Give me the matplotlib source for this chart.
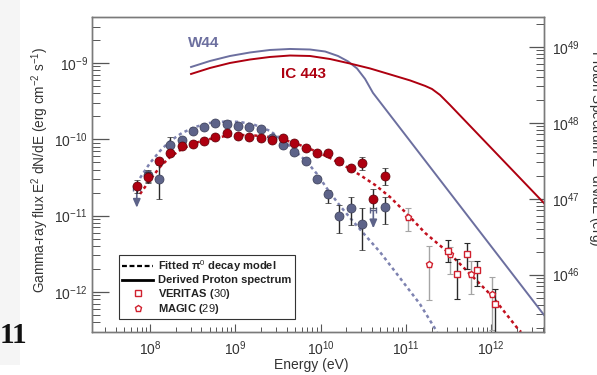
import numpy as np
import matplotlib
matplotlib.use("Agg")
import matplotlib.pyplot as plt
from matplotlib.lines import Line2D
from matplotlib.patches import Rectangle
from matplotlib.ticker import LogLocator, NullFormatter

plt.rcParams['font.family'] = ['Liberation Sans', 'DejaVu Sans']
plt.rcParams['mathtext.fontset'] = 'custom'
plt.rcParams['mathtext.rm'] = 'Liberation Sans'
plt.rcParams['mathtext.it'] = 'Liberation Sans:italic:bold'
plt.rcParams['mathtext.bf'] = 'Liberation Sans:bold'

# ---------------- data ----------------
# Fermi-LAT energy bins (eV)
fermi_E = [7.0e7, 9.55e7, 1.29e8, 1.72e8, 2.35e8, 3.17e8, 4.30e8, 5.83e8, 7.93e8,
           1.07e9, 1.45e9, 1.99e9, 2.67e9, 3.60e9, 4.92e9, 6.69e9, 9.0e9, 1.23e10,
           1.66e10, 2.27e10, 3.08e10, 4.15e10, 5.69e10]
nan = np.nan
# W44 (erg cm^-2 s^-1); nan where only an upper limit exists
w44_flux = [nan, 3.40e-11, 3.02e-11, 8.41e-11, 9.8e-11, 1.29e-10, 1.46e-10, 1.62e-10, 1.57e-10,
            1.51e-10, 1.47e-10, 1.36e-10, 1.03e-10, 8.41e-11, 6.76e-11, 5.25e-11, 3.02e-11, 1.92e-11,
            9.9e-12, 1.25e-11, 7.69e-12, nan, 1.31e-11]
w44_hi = [nan, 4.0e-11, 4.6e-11, 1.06e-10, 1.07e-10, 1.36e-10, 1.53e-10, 1.70e-10, 1.65e-10,
          1.58e-10, 1.54e-10, 1.42e-10, 1.08e-10, 8.9e-11, 7.2e-11, 5.6e-11, 3.3e-11, 2.17e-11,
          1.38e-11, 1.74e-11, 1.26e-11, nan, 1.77e-11]
w44_lo = [nan, 2.78e-11, 1.64e-11, 7.24e-11, 8.9e-11, 1.22e-10, 1.39e-10, 1.54e-10, 1.49e-10,
          1.44e-10, 1.40e-10, 1.30e-10, 9.8e-11, 7.9e-11, 6.3e-11, 4.9e-11, 2.75e-11, 1.45e-11,
          5.86e-12, 7.53e-12, 3.54e-12, nan, 7.76e-12]
# W44 upper limits
w44_ul_E = [7.0e7, 4.15e10]
w44_ul_Elo = [6.4e7, 3.8e10]
w44_ul_Ehi = [7.6e7, 4.5e10]
w44_ul_F = [2.30e-11, 1.18e-11]
w44_ul_tip = [1.27e-11, 6.82e-12]

# IC 443
ic_flux = [2.47e-11, 3.24e-11, 5.20e-11, 6.56e-11, 8.17e-11, 8.59e-11, 9.59e-11, 1.08e-10, 1.20e-10,
           1.10e-10, 1.08e-10, 1.05e-10, 9.79e-11, 1.03e-10, 9.02e-11, 7.62e-11, 6.67e-11, 6.56e-11,
           5.20e-11, 4.17e-11, 4.84e-11, 1.65e-11, 3.30e-11]
ic_hi = [2.93e-11, 3.76e-11, 5.6e-11, 7.0e-11, 8.6e-11, 9.0e-11, 1.0e-10, 1.13e-10, 1.25e-10,
         1.15e-10, 1.13e-10, 1.10e-10, 1.02e-10, 1.08e-10, 9.4e-11, 8.0e-11, 7.0e-11, 6.9e-11,
         5.5e-11, 4.5e-11, 5.81e-11, 2.23e-11, 4.21e-11]
ic_lo = [1.98e-11, 2.70e-11, 4.8e-11, 6.1e-11, 7.7e-11, 8.2e-11, 9.2e-11, 1.03e-10, 1.15e-10,
         1.05e-10, 1.03e-10, 1.0e-10, 9.4e-11, 9.8e-11, 8.6e-11, 7.2e-11, 6.3e-11, 6.2e-11,
         4.9e-11, 3.85e-11, 3.96e-11, 1.26e-11, 2.52e-11]

# MAGIC (29)
magic_E = [1.07e11, 1.88e11, 3.29e11, 5.75e11, 1.03e12]
magic_F = [9.68e-12, 2.32e-12, 3.14e-12, 1.70e-12, 9.31e-13]
magic_hi = [1.25e-11, 4.0e-12, 3.91e-12, 2.54e-12, 1.58e-12]
magic_lo = [6.28e-12, 7.83e-13, 1.72e-12, 9.38e-13, 3.16e-13]

# VERITAS (30)
ver_E = [3.14e11, 3.94e11, 5.16e11, 6.87e11, 1.12e12]
ver_F = [3.47e-12, 1.72e-12, 3.17e-12, 1.92e-12, 7.0e-13]
ver_hi = [4.79e-12, 2.70e-12, 4.38e-12, 2.54e-12, 1.09e-12]
ver_lo = [2.49e-12, 8.07e-13, 2.0e-12, 1.19e-12, 3.0e-13]

# Fitted pi0 decay models
w44_fit_E = [7.64e7, 1.0e8, 1.31e8, 1.72e8, 2.37e8, 3.37e8, 5.05e8, 7.57e8, 1.135e9, 1.70e9,
             2.55e9, 3.83e9, 5.01e9, 6.75e9, 9.08e9, 1.22e10, 1.69e10, 2.33e10, 3.31e10, 4.97e10,
             8.53e10, 1.46e11, 2.32e11]
w44_fit_F = [3.11e-11, 4.89e-11, 7.03e-11, 9.50e-11, 1.21e-10, 1.45e-10, 1.64e-10, 1.71e-10,
             1.69e-10, 1.54e-10, 1.29e-10, 9.22e-11, 7.03e-11, 5.20e-11, 3.51e-11, 2.17e-11,
             1.34e-11, 8.75e-12, 5.57e-12, 3.33e-12, 1.52e-12, 6.93e-13, 2.98e-13]
ic_fit_E = [7.64e7, 1.0e8, 1.31e8, 1.72e8, 2.37e8, 3.37e8, 5.05e8, 7.57e8, 1.135e9, 1.70e9,
            2.55e9, 3.83e9, 5.73e9, 8.59e9, 1.29e10, 1.93e10, 2.90e10, 4.35e10, 6.52e10, 1.06e11,
            1.68e11, 3.29e11, 5.64e11, 1.02e12, 2.06e12, 2.24e12]
ic_fit_F = [1.92e-11, 2.93e-11, 4.34e-11, 5.86e-11, 7.46e-11, 8.95e-11, 1.01e-10, 1.10e-10,
            1.14e-10, 1.12e-10, 1.07e-10, 9.79e-11, 8.41e-11, 7.03e-11, 5.69e-11, 4.47e-11,
            3.40e-11, 2.52e-11, 1.75e-11, 1.02e-11, 5.92e-12, 3.14e-12, 1.72e-12, 8.83e-13,
            3.27e-13, 2.98e-13]

# Derived proton spectra (erg), right axis
w44_p_E = [3.03e8, 5.05e8, 8.66e8, 1.49e9, 2.55e9, 4.38e9, 7.51e9, 1.13e10, 1.60e10, 2.10e10,
           2.67e10, 3.32e10, 4.11e10, 4.16e12]
w44_p_N = [5.41e48, 6.49e48, 7.55e48, 8.40e48, 9.06e48, 9.34e48, 9.19e48, 8.65e48, 7.55e48,
           6.40e48, 5.18e48, 3.77e48, 2.47e48, 2.95e45]
ic_p_E = [3.03e8, 5.05e8, 8.66e8, 1.49e9, 2.55e9, 4.38e9, 7.51e9, 1.29e10, 2.21e10, 3.79e10,
          6.52e10, 1.12e11, 1.68e11, 2.02e11, 2.51e11, 3.29e11, 4.16e12]
ic_p_N = [4.38e48, 5.25e48, 6.11e48, 6.79e48, 7.33e48, 7.66e48, 7.55e48, 6.89e48, 6.01e48,
          5.18e48, 4.32e48, 3.60e48, 3.05e48, 2.78e48, 2.32e48, 1.71e48, 8.75e46]

x_ticks = [1e8, 1e9, 1e10, 1e11, 1e12]
y_ticks = [1e-12, 1e-11, 1e-10, 1e-9]
y2_ticks = [1e46, 1e47, 1e48, 1e49]

# ---------------- styles ----------------
C_W44 = '#5d6389'
C_W44_LINE = '#6c6f9f'
C_W44_FIT = '#7d82b0'
C_IC = '#ae0010'
C_IC_FIT = '#c2101e'
C_OPEN = '#d0202e'
SPINE = '#7a7a7a'
TXT = '#333333'

fig = plt.figure(figsize=(5.97, 3.75), dpi=100)
fig.patches.append(Rectangle((0, 0.027), 0.034, 0.973, transform=fig.transFigure,
                             facecolor='#f5f5f5', edgecolor='none', zorder=0))
ax = fig.add_axes([92/597, 1-332/375, 452/597, 315/375])
ax.set_xscale('log')
ax.set_yscale('log')

ax2 = ax.twinx()
ax2.set_yscale('log')

# fit curves
ax.plot(w44_fit_E, w44_fit_F, color=C_W44_FIT, lw=1.8, ls=(0, (1.3, 1.3)), zorder=2)
ax.plot(ic_fit_E, ic_fit_F, color=C_IC_FIT, lw=1.8, ls=(0, (1.3, 1.3)), zorder=2)

# proton spectra
ax2.plot(w44_p_E, w44_p_N, color=C_W44_LINE, lw=1.4, zorder=2)
ax2.plot(ic_p_E, ic_p_N, color=C_IC, lw=1.4, zorder=2)

def errs(v, lo, hi):
    v = np.asarray(v, float)
    return [v - np.asarray(lo, float), np.asarray(hi, float) - v]

# TeV data
ax.errorbar(magic_E, magic_F, yerr=errs(magic_F, magic_lo, magic_hi), fmt='none',
            ecolor='#a5a5a5', elinewidth=1.0, capsize=2.2, capthick=0.8, zorder=3)
ax.errorbar(ver_E, ver_F, yerr=errs(ver_F, ver_lo, ver_hi), fmt='none',
            ecolor='#2a2a2a', elinewidth=1.0, capsize=2.2, capthick=0.8, zorder=3)
ax.plot(magic_E, magic_F, ls='none', marker='p', ms=5, mfc='white', mec=C_OPEN, mew=1.0, zorder=4)
ax.plot(ver_E, ver_F, ls='none', marker='s', ms=5, mfc='white', mec=C_OPEN, mew=1.0, zorder=4)

# W44 upper limits
for e, elo, ehi, f, tip in zip(w44_ul_E, w44_ul_Elo, w44_ul_Ehi, w44_ul_F, w44_ul_tip):
    ax.errorbar([e], [f], xerr=[[e - elo], [ehi - e]], fmt='none', ecolor=C_W44,
                elinewidth=1.0, capsize=2.5, capthick=1.0, zorder=3)
    ax.annotate('', xy=(e, tip), xytext=(e, f),
                arrowprops=dict(arrowstyle='-|>,head_length=0.5,head_width=0.22',
                                color=C_W44, lw=1.2, shrinkA=0, shrinkB=0), zorder=3)

# Fermi points
ax.errorbar(fermi_E, w44_flux, yerr=errs(w44_flux, w44_lo, w44_hi), fmt='o', ms=6.5,
            mfc=C_W44, mec='#3a3d55', mew=0.5, ecolor='#2a2a2a', elinewidth=1.0,
            capsize=2.2, capthick=0.8, zorder=5)
ax.errorbar(fermi_E, ic_flux, yerr=errs(ic_flux, ic_lo, ic_hi), fmt='o', ms=6.5,
            mfc=C_IC, mec='#5a0008', mew=0.5, ecolor='#2a2a2a', elinewidth=1.0,
            capsize=2.2, capthick=0.8, zorder=6)

# labels on curves
ax.text(10**(8 + (204-150)/85.3), 10**(-9 + (63-43)/76.3), 'W44', color=C_W44_LINE,
        fontsize=11, fontweight='bold', ha='center', va='center')
ax.text(10**(8 + (303.5-150)/85.3), 10**(-9 - (73.5-63)/76.3), 'IC 443', color=C_IC,
        fontsize=11, fontweight='bold', ha='center', va='center')

# ticks
for a in (ax, ax2):
    for s in a.spines.values():
        s.set_color(SPINE)
        s.set_linewidth(1.0)
ax.set_xticks(x_ticks)
ax.set_yticks(y_ticks)
ax2.set_yticks(y2_ticks)
ax.xaxis.set_minor_locator(LogLocator(base=10, subs=np.arange(2, 10), numticks=50))
ax.xaxis.set_minor_formatter(NullFormatter())
ax.yaxis.set_minor_locator(LogLocator(base=10, subs=np.arange(2, 10), numticks=50))
ax.yaxis.set_minor_formatter(NullFormatter())
ax2.yaxis.set_minor_locator(LogLocator(base=10, subs=np.arange(2, 10), numticks=50))
ax2.yaxis.set_minor_formatter(NullFormatter())
ax.set_xlim(10**7.32, 10**12.619)
ax.set_ylim(10**-12.526, 10**-8.397)
ax2.set_ylim(10**45.246, 10**49.391)
ax2.tick_params(axis='x', which='both', bottom=False, top=False,
                labelbottom=False, labeltop=False)

ax.tick_params(axis='x', which='both', direction='in', bottom=True, top=False,
               colors='#555555', labelcolor=TXT, labelsize=10, pad=5)
ax.tick_params(axis='x', which='major', length=6, width=0.8)
ax.tick_params(axis='x', which='minor', length=3.5, width=0.7)
ax.tick_params(axis='y', which='both', direction='in', left=True, right=False,
               colors='#555555', labelcolor=TXT, labelsize=10, pad=3)
ax.tick_params(axis='y', which='major', length=12, width=0.9)
ax.tick_params(axis='y', which='minor', length=6, width=0.7)
ax2.tick_params(axis='y', which='both', direction='in', right=True, left=False,
                colors='#555555', labelcolor=TXT, labelsize=10, pad=6)
ax2.tick_params(axis='y', which='major', length=11, width=0.9)
ax2.tick_params(axis='y', which='minor', length=5.5, width=0.7)

# axis labels
fig.text(40/597, 1-170/375, 'Gamma-ray flux E$^2$ dN/dE (erg cm$^{-2}$ s$^{-1}$)',
         rotation=90, ha='center', va='center', fontsize=9.8, color=TXT)
fig.text(585/597, 1-148/375, 'Proton Spectrum E$^2$ dN/dE (erg)',
         rotation=270, ha='left', va='center', fontsize=9.8, color=TXT)
fig.text(311.5/597, 1-365/375, 'Energy (eV)', ha='center', va='center',
         fontsize=10, color=TXT)

# stray page number
fig.text(0/597, 1-343/375, '11', family='Liberation Serif', fontweight='bold',
         fontsize=21, ha='left', va='baseline', color='#111111')

# legend
handles = [Line2D([], [], color='black', lw=1.6, ls=(0, (2.2, 1.2))),
           Line2D([], [], color='black', lw=2.0),
           Line2D([], [], ls='none', marker='s', ms=4.5, mfc='white', mec=C_OPEN, mew=1.0),
           Line2D([], [], ls='none', marker='p', ms=4.5, mfc='white', mec=C_OPEN, mew=1.0)]
labels = ['Fitted \u03c0$^0$ decay model', 'Derived Proton spectrum',
          'VERITAS ($\\mathit{30}$)', 'MAGIC ($\\mathit{29}$)']
leg = ax2.legend(handles, labels, loc='lower left',
                 bbox_to_anchor=((119-92)/452, (332-319)/315), borderaxespad=0,
                 prop={'weight': 'bold', 'size': 8.0}, frameon=True, fancybox=False,
                 edgecolor='#333333', framealpha=1, handlelength=2.8,
                 handletextpad=0.45, labelspacing=0.1, borderpad=0.3)
leg.get_frame().set_linewidth(0.8)
for t in leg.get_texts():
    t.set_color('#222222')

fig.savefig('out.png', dpi=100)
